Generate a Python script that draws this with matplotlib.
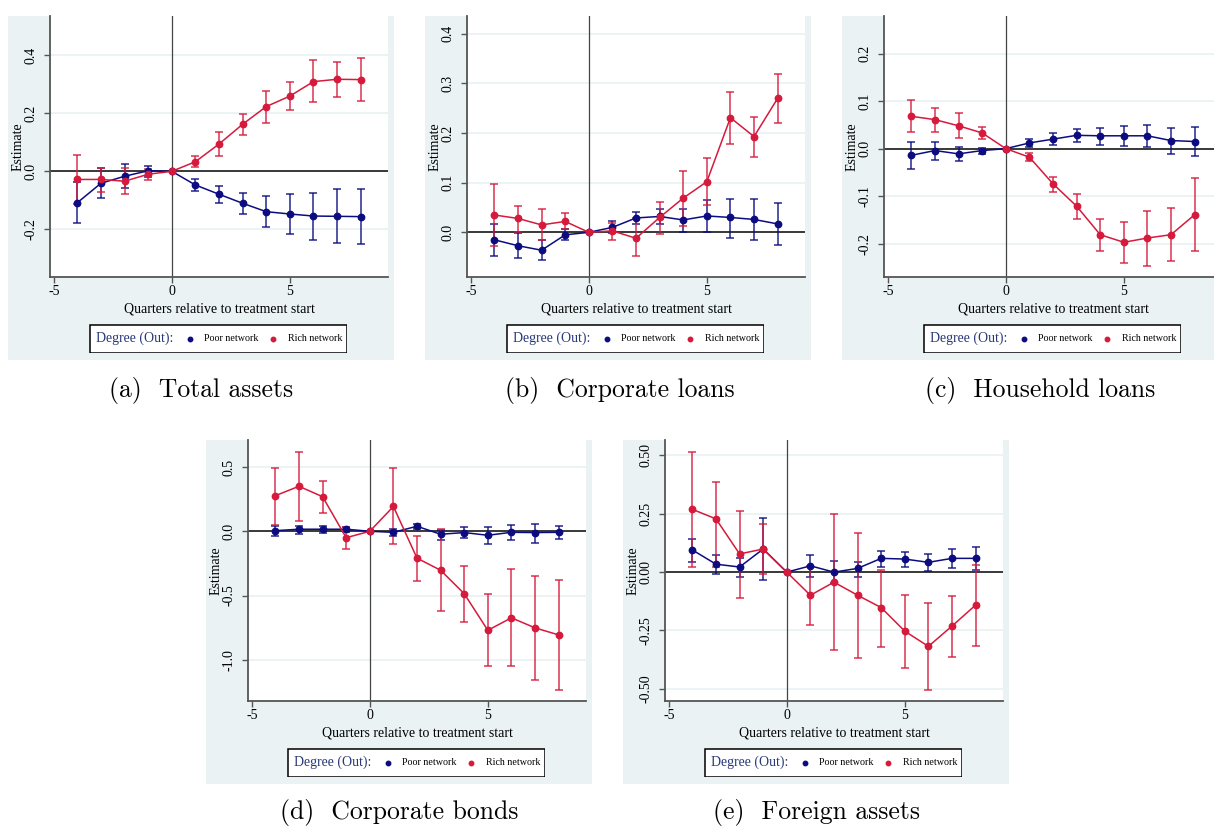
import numpy as np
import matplotlib
matplotlib.use("Agg")
import matplotlib.pyplot as plt
from matplotlib.patches import Rectangle

plt.rcParams['font.family'] = ['Liberation Serif', 'DejaVu Serif']
plt.rcParams['axes.unicode_minus'] = False

nan = np.nan
quarters = [-4, -3, -2, -1, 0, 1, 2, 3, 4, 5, 6, 7, 8]

# (a) Total assets
ta_poor = [-0.108, -0.041, -0.017, 0.002, 0, -0.047, -0.079, -0.110, -0.139, -0.147, -0.154, -0.155, -0.156]
ta_poor_lo = [-0.179, -0.093, -0.059, -0.018, nan, -0.068, -0.110, -0.147, -0.193, -0.217, -0.236, -0.248, -0.252]
ta_poor_hi = [-0.037, 0.010, 0.024, 0.018, nan, -0.028, -0.049, -0.074, -0.084, -0.077, -0.074, -0.062, -0.061]
ta_rich = [-0.028, -0.028, -0.034, -0.010, 0, 0.033, 0.094, 0.162, 0.223, 0.259, 0.309, 0.317, 0.316]
ta_rich_lo = [-0.112, -0.070, -0.078, -0.030, nan, 0.014, 0.054, 0.125, 0.168, 0.211, 0.239, 0.255, 0.243]
ta_rich_hi = [0.056, 0.013, 0.010, 0.007, nan, 0.054, 0.134, 0.198, 0.278, 0.307, 0.382, 0.378, 0.390]

# (b) Corporate loans
cl_poor = [-0.015, -0.027, -0.036, -0.005, 0, 0.010, 0.029, 0.032, 0.025, 0.033, 0.030, 0.026, 0.017]
cl_poor_lo = [-0.047, -0.051, -0.056, -0.016, nan, -0.001, 0.017, 0.016, 0.001, 0.001, -0.011, -0.015, -0.026]
cl_poor_hi = [0.017, -0.001, -0.016, 0.006, nan, 0.022, 0.042, 0.048, 0.048, 0.065, 0.067, 0.067, 0.059]
cl_rich = [0.035, 0.028, 0.015, 0.022, 0, 0.003, -0.012, 0.030, 0.069, 0.102, 0.231, 0.193, 0.270]
cl_rich_lo = [-0.027, 0.000, -0.016, 0.007, nan, -0.016, -0.047, -0.004, 0.012, 0.056, 0.179, 0.152, 0.220]
cl_rich_hi = [0.097, 0.053, 0.047, 0.038, nan, 0.019, 0.028, 0.061, 0.124, 0.149, 0.283, 0.233, 0.320]

# (c) Household loans
hl_poor = [-0.014, -0.004, -0.011, -0.004, 0, 0.012, 0.020, 0.028, 0.027, 0.027, 0.027, 0.017, 0.015]
hl_poor_lo = [-0.042, -0.023, -0.025, -0.011, nan, 0.004, 0.007, 0.014, 0.008, 0.005, 0.003, -0.012, -0.016]
hl_poor_hi = [0.013, 0.014, 0.004, 0.002, nan, 0.020, 0.032, 0.042, 0.044, 0.048, 0.050, 0.044, 0.046]
hl_rich = [0.068, 0.061, 0.048, 0.033, 0, -0.018, -0.074, -0.121, -0.181, -0.197, -0.188, -0.181, -0.139]
hl_rich_lo = [0.034, 0.036, 0.023, 0.020, nan, -0.027, -0.091, -0.147, -0.215, -0.241, -0.246, -0.237, -0.215]
hl_rich_hi = [0.102, 0.086, 0.075, 0.046, nan, -0.009, -0.059, -0.096, -0.149, -0.154, -0.131, -0.124, -0.062]

# (d) Corporate bonds
cb_poor = [0.005, 0.016, 0.016, 0.016, 0, -0.008, 0.039, -0.023, -0.010, -0.031, -0.008, -0.010, -0.008]
cb_poor_lo = [-0.037, -0.021, -0.016, -0.003, nan, -0.037, 0.016, -0.068, -0.055, -0.102, -0.070, -0.089, -0.057]
cb_poor_hi = [0.042, 0.044, 0.039, 0.031, nan, 0.018, 0.060, 0.013, 0.031, 0.031, 0.047, 0.060, 0.039]
cb_rich = [0.277, 0.350, 0.269, -0.050, 0, 0.193, -0.209, -0.303, -0.485, -0.770, -0.673, -0.751, -0.806]
cb_rich_lo = [0.050, 0.081, 0.146, -0.141, nan, -0.102, -0.389, -0.618, -0.707, -1.051, -1.051, -1.156, -1.234]
cb_rich_hi = [0.496, 0.618, 0.389, 0.037, nan, 0.490, -0.034, 0.016, -0.269, -0.488, -0.295, -0.347, -0.378]

# (e) Foreign assets
fa_poor = [0.095, 0.034, 0.022, 0.099, 0, 0.027, 0.000, 0.016, 0.059, 0.056, 0.042, 0.059, 0.059]
fa_poor_lo = [0.043, -0.006, -0.020, -0.033, nan, -0.022, -0.047, -0.020, 0.024, 0.024, 0.004, 0.019, 0.011]
fa_poor_hi = [0.144, 0.075, 0.059, 0.230, nan, 0.075, 0.047, 0.045, 0.089, 0.086, 0.079, 0.099, 0.108]
fa_rich = [0.269, 0.228, 0.078, 0.099, 0, -0.099, -0.043, -0.099, -0.152, -0.253, -0.318, -0.231, -0.141]
fa_rich_lo = [0.020, 0.020, -0.111, -0.009, nan, -0.226, -0.332, -0.369, -0.322, -0.409, -0.503, -0.362, -0.315]
fa_rich_hi = [0.516, 0.386, 0.264, 0.208, nan, 0.026, 0.247, 0.167, 0.009, -0.099, -0.134, -0.102, 0.032]

POOR = '#0c0c80'
RICH = '#d51a3c'
BG = '#eaf2f3'

W, H = 1214, 827
fig = plt.figure(figsize=(W / 100, H / 100), dpi=100)


def fx(px):
    return px / W


def fy(py):
    return 1 - py / H


def draw_panel(left, top, poor, rich, yticks, ylabels, ylim, caption, cap_x, cap_y):
    # light background box around the whole Stata graph
    fig.add_artist(Rectangle((fx(left - 42), fy(top + 344)), fx(386), 344 / H,
                             transform=fig.transFigure, facecolor=BG,
                             edgecolor='none', zorder=-5))
    ax = fig.add_axes([fx(left), fy(top + 261), fx(338), 261 / H])
    ax.set_facecolor('white')
    for y in yticks:
        ax.axhline(y, color=BG, lw=1.3, zorder=0)
    ax.axhline(0, color='#2a2a2a', lw=1.3, zorder=1)
    ax.axvline(0, color='#444444', lw=0.9, zorder=1)

    for (est, lo, hi), col in ((poor, POOR), (rich, RICH)):
        est = np.array(est)
        lo = np.array(lo)
        hi = np.array(hi)
        ax.errorbar(quarters, est, yerr=[est - lo, hi - est], fmt='none',
                    ecolor=col, alpha=0.7, elinewidth=1.4, capsize=2.6,
                    capthick=1.4, zorder=2)
    for (est, lo, hi), col in ((poor, POOR), (rich, RICH)):
        ax.plot(quarters, est, color=col, lw=1.1, marker='o', ms=4.6, zorder=3)

    ax.set_xlim(-5.16, 9.16)
    ax.set_ylim(*ylim)
    ax.set_xticks([-5, 0, 5])
    ax.set_yticks(yticks)
    ax.set_yticklabels(ylabels, rotation=90, va='center')
    ax.tick_params(labelsize=10, length=4, width=1, color='#555555', pad=2)
    ax.tick_params(axis='y', pad=5)
    for s in ('top', 'right'):
        ax.spines[s].set_visible(False)
    for s in ('left', 'bottom'):
        ax.spines[s].set_color('#555555')
        ax.spines[s].set_linewidth(1.3)
    ax.set_xlabel('Quarters relative to treatment start', fontsize=10, labelpad=3)
    ax.set_ylabel('Estimate', fontsize=10, labelpad=0)

    # legend box below the plot
    lax = fig.add_axes([fx(left + 39), fy(top + 308 + 29), fx(258), 29 / H])
    lax.set_xlim(0, 258)
    lax.set_ylim(0, 29)
    lax.axis('off')
    lax.add_patch(Rectangle((0.5, 0.5), 257, 28, facecolor='white',
                            edgecolor='black', lw=1.1))
    lax.text(7, 14.5, 'Degree (Out):', fontsize=10, color='#283878',
             va='center', ha='left')
    lax.plot([101], [14.5], 'o', color=POOR, ms=3.2)
    lax.text(115, 14.5, 'Poor network', fontsize=7.2, va='center', ha='left')
    lax.plot([184], [14.5], 'o', color=RICH, ms=3.2)
    lax.text(199, 14.5, 'Rich network', fontsize=7.2, va='center', ha='left')

    fig.text(fx(cap_x), fy(cap_y), caption, family='cmr10', fontsize=18.5,
             ha='center', va='center')


draw_panel(50, 16, (ta_poor, ta_poor_lo, ta_poor_hi), (ta_rich, ta_rich_lo, ta_rich_hi),
           [-0.2, 0.0, 0.2, 0.4], ['-0.2', '0.0', '0.2', '0.4'], (-0.364, 0.535),
           '(a)  Total assets', 201, 390)
draw_panel(467, 16, (cl_poor, cl_poor_lo, cl_poor_hi), (cl_rich, cl_rich_lo, cl_rich_hi),
           [0.0, 0.1, 0.2, 0.3, 0.4], ['0.0', '0.1', '0.2', '0.3', '0.4'], (-0.090, 0.436),
           '(b)  Corporate loans', 620, 390)
draw_panel(884, 16, (hl_poor, hl_poor_lo, hl_poor_hi), (hl_rich, hl_rich_lo, hl_rich_hi),
           [-0.2, -0.1, 0.0, 0.1, 0.2], ['-0.2', '-0.1', '0.0', '0.1', '0.2'], (-0.270, 0.279),
           '(c)  Household loans', 1040, 390)
draw_panel(248, 440, (cb_poor, cb_poor_lo, cb_poor_hi), (cb_rich, cb_rich_lo, cb_rich_hi),
           [-1.0, -0.5, 0.0, 0.5], ['-1.0', '-0.5', '0.0', '0.5'], (-1.320, 0.710),
           '(d)  Corporate bonds', 399, 813)
draw_panel(665, 440, (fa_poor, fa_poor_lo, fa_poor_hi), (fa_rich, fa_rich_lo, fa_rich_hi),
           [-0.5, -0.25, 0.0, 0.25, 0.5], ['-0.50', '-0.25', '0.00', '0.25', '0.50'], (-0.552, 0.566),
           '(e)  Foreign assets', 816, 813)

fig.savefig('out.png', dpi=100)
